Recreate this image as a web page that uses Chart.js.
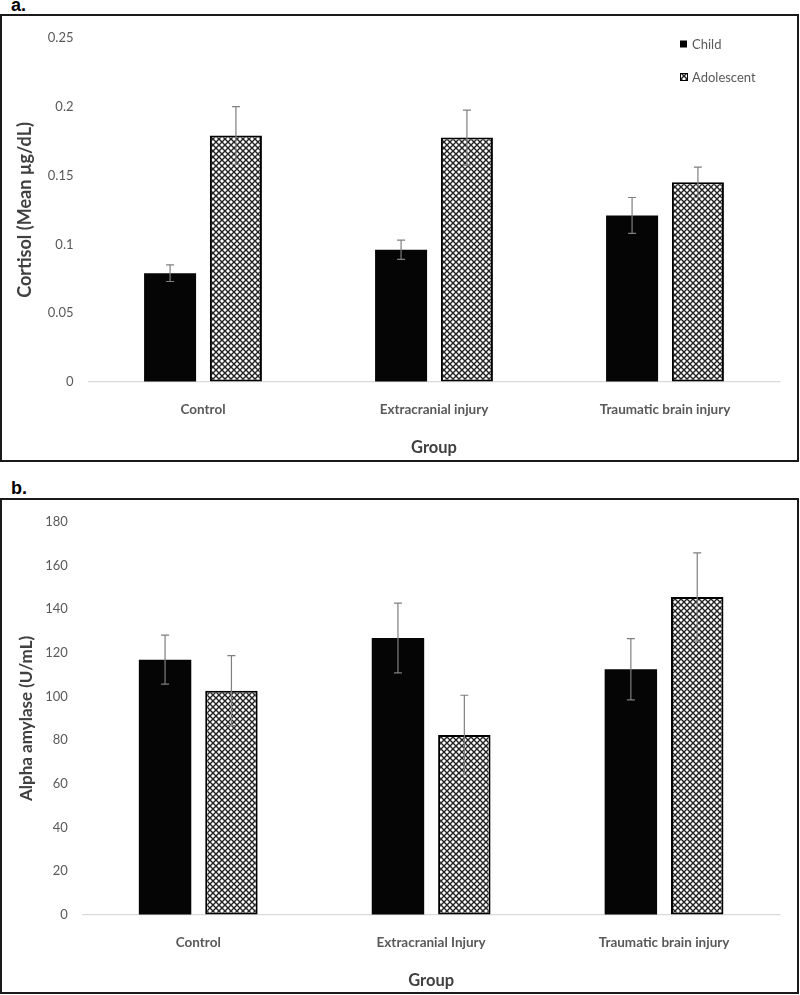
<!DOCTYPE html>
<html>
<head>
<meta charset="utf-8">
<script src="https://cdn.jsdelivr.net/npm/chart.js@4.4.1/dist/chart.umd.min.js"></script>
<style>
  body { margin: 0; background: #fff; width: 800px; height: 995px; position: relative; overflow: hidden; }
  .box { position: absolute; left: 0; width: 799px; border: 2px solid #1a1a1a; box-sizing: border-box; }
  .tag { position: absolute; font-family: "Liberation Sans", Arial, sans-serif; font-weight: bold; font-size: 18px; color: #000; }
  canvas { position: absolute; left: 0; }
</style>
</head>
<body>
<div class="tag" style="left:11px; top:-5px;">a.</div>
<div class="box" style="top:14px; height:448px;"></div>
<canvas id="chartA" width="798" height="444" style="top:16px;"></canvas>

<div class="tag" style="left:11px; top:478px;">b.</div>
<div class="box" style="top:498px; height:496px;"></div>
<canvas id="chartB" width="798" height="493" style="top:500px;"></canvas>

<script>
// --- data (a) cortisol
const groupsA = ["Control", "Extracranial injury", "Traumatic brain injury"];
const seriesNames = ["Child", "Adolescent"];
const cortisolChild = [0.079, 0.096, 0.121];
const cortisolChildErr = [0.006, 0.007, 0.013];
const cortisolAdol = [0.179, 0.1775, 0.145];
const cortisolAdolErr = [0.021, 0.020, 0.011];
const yTicksA = ["0", "0.05", "0.1", "0.15", "0.2", "0.25"];

// --- data (b) alpha amylase
const groupsB = ["Control", "Extracranial Injury", "Traumatic brain injury"];
const amylaseChild = [116.9, 126.8, 112.5];
const amylaseChildErr = [11.2, 16, 14];
const amylaseAdol = [102.7, 82.4, 145.6];
const amylaseAdolErr = [16, 18.2, 20.2];
const yTicksB = ["0", "20", "40", "60", "80", "100", "120", "140", "160", "180"];

const FONT = "Lato, 'Open Sans', sans-serif";
const GREY = "#595959";

function makeHatch() {
  const s = 6;
  const c = document.createElement("canvas");
  c.width = s; c.height = s;
  const g = c.getContext("2d");
  g.fillStyle = "#fff";
  g.fillRect(0, 0, s, s);
  g.strokeStyle = "#222";
  g.lineWidth = 1.4;
  for (let k = -1; k <= 1; k++) {
    g.beginPath();
    g.moveTo(k * s, 0); g.lineTo(k * s + s, s);
    g.moveTo(k * s + s, 0); g.lineTo(k * s, s);
    g.stroke();
  }
  return document.createElement("canvas").getContext("2d").createPattern(c, "repeat");
}
const hatch = makeHatch();

// error bars drawn from each dataset's "errors" array
const errorBars = {
  id: "errorBars",
  afterDatasetsDraw(chart) {
    const ctx = chart.ctx;
    const y = chart.scales.y;
    chart.data.datasets.forEach((ds, di) => {
      const meta = chart.getDatasetMeta(di);
      meta.data.forEach((bar, i) => {
        const v = ds.data[i], e = ds.errors[i];
        const top = y.getPixelForValue(v + e);
        const bot = y.getPixelForValue(v - e);
        ctx.save();
        ctx.strokeStyle = "#7f7f7f";
        ctx.lineWidth = 1.2;
        ctx.beginPath();
        ctx.moveTo(bar.x, top); ctx.lineTo(bar.x, bot);
        ctx.moveTo(bar.x - 4, top); ctx.lineTo(bar.x + 4, top);
        ctx.moveTo(bar.x - 4, bot); ctx.lineTo(bar.x + 4, bot);
        ctx.stroke();
        ctx.restore();
      });
    });
  }
};

// legend in the top-right corner of chart a
const cornerLegend = {
  id: "cornerLegend",
  afterDraw(chart, args, opts) {
    if (!opts.show) return;
    const ctx = chart.ctx;
    ctx.save();
    ctx.font = "13px " + FONT;
    ctx.textBaseline = "middle";
    chart.data.datasets.forEach((ds, i) => {
      const cy = 28 + i * 33;
      if (i === 0) {
        ctx.fillStyle = "#000";
        ctx.fillRect(680, cy - 3.5, 7, 7);
      } else {
        ctx.fillStyle = hatch;
        ctx.fillRect(680, cy - 4, 8, 8);
        ctx.strokeStyle = "#000";
        ctx.lineWidth = 1;
        ctx.strokeRect(680.5, cy - 3.5, 7, 7);
      }
      ctx.fillStyle = GREY;
      ctx.fillText(ds.label, 692, cy + 1);
    });
    ctx.restore();
  }
};

function buildChart(id, groups, child, childErr, adol, adolErr, ticks, step, yTitle, yTitleSize, yTitlePad, yWidth, padTop, showLegend) {
  const ctx = document.getElementById(id).getContext("2d");
  const max = step * (ticks.length - 1);
  return new Chart(ctx, {
    type: "bar",
    data: {
      labels: groups,
      datasets: [
        {
          label: seriesNames[0],
          data: child,
          errors: childErr,
          backgroundColor: "#050505",
          borderWidth: 0,
          categoryPercentage: 0.57,
          barPercentage: 0.79
        },
        {
          label: seriesNames[1],
          data: adol,
          errors: adolErr,
          backgroundColor: hatch,
          borderColor: "#000",
          borderWidth: 2,
          borderSkipped: false,
          categoryPercentage: 0.57,
          barPercentage: 0.79
        }
      ]
    },
    options: {
      responsive: false,
      animation: false,
      layout: { padding: { left: 0, right: 798 - 780.5, top: padTop, bottom: 0 } },
      plugins: {
        legend: { display: false },
        tooltip: { enabled: false },
        cornerLegend: { show: showLegend }
      },
      scales: {
        x: {
          grid: { display: false },
          border: { display: false },
          ticks: { color: GREY, padding: 12, font: { family: FONT, size: 13.5, weight: "bold" } },
          title: {
            display: true,
            text: "Group",
            color: "#404040",
            padding: { top: 0, bottom: 2 },
            font: { family: FONT, size: 16.5, weight: "bold" }
          },
          afterFit: s => { s.height = 78; }
        },
        y: {
          min: 0,
          max: max,
          grid: {
            drawTicks: false,
            color: c => (c.tick && c.tick.value === 0 ? "#d9d9d9" : "rgba(0,0,0,0)"),
            lineWidth: 1.2
          },
          border: { display: false },
          ticks: {
            stepSize: step,
            padding: 14,
            color: GREY,
            font: { family: FONT, size: 13 },
            callback: (v, i) => ticks[i]
          },
          title: {
            display: true,
            text: yTitle,
            color: "#404040",
            padding: { top: yTitlePad, bottom: 0 },
            font: { family: FONT, size: yTitleSize, weight: "bold" }
          },
          afterFit: s => { s.width = yWidth; }
        }
      }
    },
    plugins: [errorBars, cornerLegend]
  });
}

window.onload = () => {
  buildChart("chartA", groupsA, cortisolChild, cortisolChildErr, cortisolAdol, cortisolAdolErr,
    yTicksA, 0.05, "Cortisol (Mean µg/dL)", 18, 14, 87.5, 19, true);
  buildChart("chartB", groupsB, amylaseChild, amylaseChildErr, amylaseAdol, amylaseAdolErr,
    yTicksB, 20, "Alpha amylase (U/mL)", 17, 16, 81.8, 20, false);
};
</script>
</body>
</html>
